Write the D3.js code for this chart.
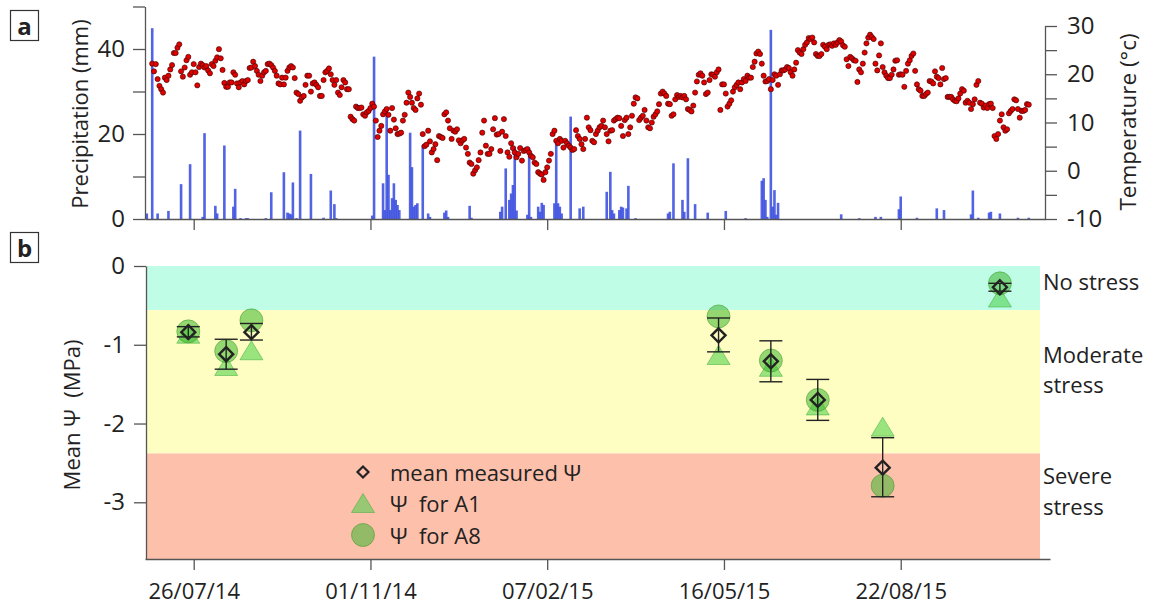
<!DOCTYPE html>
<html>
<head>
<meta charset="utf-8">
<script src="https://cdn.jsdelivr.net/npm/d3@7"></script>
<style>
  body { margin: 0; background: #fff; }
  text { font-family: "Open Sans", sans-serif; fill: #222; }
  .axis path, .axis line { stroke: #555; stroke-width: 1.3; }
  .axis text { font-family: "Open Sans", sans-serif; fill: #222; }
</style>
</head>
<body>
<script>
// ---- data ----
var startDate = "2014-06-29";          // day 0 of the daily series
var endDate = "2015-11-10";
var tickDates = ["2014-07-26", "2014-11-01", "2015-02-07", "2015-05-16", "2015-08-22"];

// daily mean temperature (°C), one value per day from tempStart
var tempStart = "2014-07-03";
var temps = [
  22.2,20.6,22.1,19.0,17.6,16.9,16.2,19.3,18.8,19.7,
  21.0,21.9,24.4,24.4,25.5,26.2,20.6,19.5,21.4,22.9,
  23.6,19.9,20.4,22.1,20.4,17.7,21.5,22.2,21.9,21.4,
  21.7,20.8,20.2,22.1,21.7,22.8,23.5,25.2,23.3,20.9,
  18.2,17.4,17.4,18.3,18.3,20.4,19.9,18.1,17.3,18.3,
  18.6,17.9,18.6,18.8,21.3,21.4,22.6,21.7,20.7,19.9,
  18.6,19.7,20.4,20.7,22.1,22.2,21.9,21.4,20.7,19.7,
  18.1,17.9,19.3,17.9,19.3,20.7,21.4,21.7,21.4,19.2,
  16.2,15.9,14.5,15.2,15.5,17.8,19.7,19.7,16.4,18.1,
  18.3,17.8,17.3,15.5,15.5,18.8,20.4,20.7,21.2,20.0,
  18.8,17.8,18.8,16.2,15.7,17.3,18.8,18.3,16.9,16.9,
  11.2,10.7,10.4,13.3,13.0,13.0,13.1,11.7,11.4,12.1,12.4,
  13.0,13.9,13.3,10.4,7.0,8.3,9.3,11.7,12.3,12.8,
  11.6,8.3,13.0,10.6,8.8,7.6,7.7,7.9,10.4,11.6,
  14.1,16.2,15.3,14.1,13.0,12.6,15.0,16.0,13.7,7.6,
  5.1,5.4,8.3,6.1,3.8,4.5,5.5,2.2,7.2,7.0,
  6.8,11.7,12.1,10.4,8.8,6.6,8.3,8.1,8.6,6.3,
  5.7,6.3,6.6,4.8,3.5,1.7,1.4,-0.6,0.1,0.7,
  2.2,3.8,7.9,10.4,5.2,3.5,3.5,4.5,8.6,10.9,
  7.5,7.6,4.1,8.1,10.7,7.2,3.8,2.9,5.7,4.7,
  3.8,2.8,3.5,4.7,2.1,4.1,4.3,4.5,3.8,3.1,
  2.8,1.7,1.4,-0.3,-0.6,-0.8,-1.9,-0.3,0.7,2.1,
  3.5,7.6,8.3,6.2,5.7,6.6,6.2,4.8,6.2,5.7,
  5.2,4.8,4.3,4.5,8.4,7.2,6.6,5.5,4.5,6.6,
  11.0,9.0,8.4,6.2,
  5.9,7.6,8.3,9.0,9.3,10.4,9.0,7.6,6.1,8.3,
  8.4,10.4,10.7,11.0,10.9,9.3,7.2,10.5,11.0,7.6,
  9.0,11.4,13.9,15.2,15.0,10.5,11.0,11.4,12.6,10.4,
  9.0,8.8,10.0,11.2,11.7,12.3,13.8,16.0,16.4,16.0,
  15.5,13.9,13.8,11.4,11.7,14.8,15.7,15.3,15.5,15.2,
  15.5,14.8,12.8,12.6,12.3,13.5,16.2,18.5,19.9,20.2,
  19.7,18.3,15.9,16.2,18.8,20.0,19.9,19.5,20.4,21.0,
  12.6,17.9,17.9,16.0,13.3,13.9,14.6,16.4,17.3,17.8,
  18.3,16.9,18.3,19.0,18.6,19.7,19.3,19.3,21.5,22.6,
  24.3,24.7,24.2,22.2,19.7,18.5,18.6,19.0,16.9,18.8,
  20.0,19.7,17.8,20.0,20.8,20.8,21.0,21.5,21.3,20.4,
  19.7,21.0,22.4,25.0,24.5,24.2,25.2,26.1,26.6,27.5,
  27.3,27.6,26.6,24.2,23.8,
  23.8,24.2,26.1,25.7,25.2,26.1,26.2,25.9,26.4,26.1,
  26.6,27.1,26.8,26.0,25.7,23.1,21.7,23.6,23.3,22.9,
  22.8,18.4,21.0,20.4,22.2,24.5,26.4,27.6,28.2,27.7,
  27.3,22.2,20.8,23.9,26.4,21.5,20.4,19.7,19.2,19.2,
  19.9,21.0,22.8,22.9,19.9,20.0,19.9,17.4,20.7,22.2,
  22.9,23.8,24.3,20.7,17.9,16.9,16.6,15.5,15.5,15.9,
  16.2,18.6,18.5,18.1,20.6,19.5,19.2,17.9,21.3,19.0,
  19.2,15.3,15.3,15.3,14.8,14.5,14.4,15.0,16.0,16.9,
  16.6,14.1,14.5,14.1,12.8,13.8,14.8,17.8,18.6,14.1,
  13.9,13.1,13.5,13.0,13.8,13.9,13.0,7.2,6.6,7.6,
  10.4,11.7,9.0,8.3,8.6,11.9,12.4,12.8,14.8,14.6,
  12.8,11.0,12.4,12.4,12.6,13.8,13.7
];

// daily precipitation (mm): day number since startDate, amount
var precipDay = [1,4,7,13,20,25,32,33,39,40,44,49,50,53,56,57,67,70,77,79,80,81,82,84,86,92,99,103,105,106,
  126,127,132,133,134,135,136,137,138,139,140,141,147,148,149,150,151,154,157,158,166,167,168,180,181,
  197,198,200,202,203,204,205,206,212,213,214,218,219,220,221,227,228,229,230,231,236,241,243,
  256,258,259,260,263,264,265,267,268,272,290,291,293,298,299,301,305,312,322,333,342,343,344,345,347,348,349,350,351,
  386,396,405,408,418,419,428,439,443,458,459,462,468,469,474,484,490];
var precipMm = [1.3,44.9,1.3,1.9,8.2,12.9,0.5,20.2,3.1,1.3,17.3,2.9,7.1,0.2,0.2,0.2,0.2,6.3,11.0,1.5,1.3,1.1,8.6,0.2,20.8,10.6,0.3,6.7,3.5,0.2,
  0.8,38.2,8.4,2.1,26.0,10.4,2.1,4.9,8.4,4.5,3.3,2.1,20.3,12.2,2.9,3.3,3.7,17.4,1.3,0.5,1.5,2.0,0.5,3.1,0.3,
  1.7,2.9,11.9,4.5,6.0,8.0,17.0,2.0,1.0,16.6,0.5,2.9,1.7,3.8,3.3,3.7,18.2,3.7,2.9,1.3,24.1,2.5,2.9,
  6.4,11.1,2.1,1.3,2.1,2.9,2.7,2.5,7.8,0.2,1.3,1.7,13.1,4.5,1.7,14.3,3.5,1.5,1.9,0.2,9.0,9.6,4.5,0.5,44.5,2.9,6.8,1.0,3.8,
  1.1,0.2,0.5,0.5,2.3,5.3,0.3,2.5,2.1,1.1,6.7,0.3,1.5,1.7,1.3,0.3,0.3];

// leaf water potential, panel b
var psiDates = ["2014-07-23","2014-08-13","2014-08-27","2015-05-13","2015-06-11","2015-07-07","2015-08-12","2015-10-16"];
var psiMean  = [-0.84,-1.12,-0.84,-0.88,-1.21,-1.70,-2.56,-0.27];
var psiLow   = [-0.90,-1.31,-0.94,-1.09,-1.47,-1.96,-2.93,-0.32];
var psiHigh  = [-0.77,-0.93,-0.73,-0.66,-0.95,-1.44,-2.18,-0.22];
var psiA1    = [-0.86,-1.27,-1.07,-1.13,-1.28,-1.77,-2.04,-0.40];
var psiA8    = [-0.83,-1.08,-0.69,-0.64,-1.20,-1.70,-2.79,-0.22];

var bandNames = [["No stress"], ["Moderate", "stress"], ["Severe", "stress"]];
var bandEdges = [0, -0.56, -2.38, -3.72];
var bandColors = ["#c0fde6", "#fefec2", "#fdc0ab"];
var legendLabels = ["mean measured \u03a8", "\u03a8\u00a0 for A1", "\u03a8\u00a0 for A8"];

// ---- layout ----
var width = 1153, height = 608;
var parse = d3.utcParse("%Y-%m-%d");
var plain = function(d){ return String(d); };   // hyphen minus, no decimals

var svg = d3.select("body").append("svg")
  .attr("width", width)
  .attr("height", height);

var x = d3.scaleUtc()
  .domain([parse(startDate), parse(endDate)])
  .range([145, 1045]);

var precipY = d3.scaleLinear().domain([0, 50]).range([219, 6.5]);
var tempY = d3.scaleLinear().domain([-10, 30]).range([219, 26]);
var psiY = d3.scaleLinear().domain([bandEdges[3], 0]).range([559, 266]);

var day0 = parse(startDate);
var t0 = parse(tempStart);

// ---- panel a ----
var a = svg.append("g");

a.selectAll(".bar")
  .data(precipDay)
  .enter().append("rect")
  .attr("class", "bar")
  .attr("x", function(d){ return x(d3.utcDay.offset(day0, d)) - 1.3; })
  .attr("width", 2.6)
  .attr("y", function(d, i){ return precipY(precipMm[i]); })
  .attr("height", function(d, i){ return precipY(0) - precipY(precipMm[i]); })
  .attr("fill", "#3f52e0")
  .attr("opacity", 0.9);

a.selectAll(".temp")
  .data(temps)
  .enter().append("circle")
  .attr("class", "temp")
  .attr("cx", function(d, i){ return x(d3.utcDay.offset(t0, i)); })
  .attr("cy", function(d){ return tempY(d); })
  .attr("r", 2.6)
  .attr("fill", "#e00000")
  .attr("stroke", "#3a0000")
  .attr("stroke-width", 0.6);

a.append("g").attr("class", "axis")
  .attr("transform", "translate(145,0)")
  .call(d3.axisLeft(precipY).tickValues([0,10,20,30,40,50])
    .tickFormat(function(d){ return d % 20 === 0 && d < 50 ? String(d) : ""; })
    .tickSize(12).tickPadding(8).tickSizeOuter(0))
  .selectAll("text").style("font-size", "24px");

a.append("g").attr("class", "axis")
  .attr("transform", "translate(1045,0)")
  .call(d3.axisRight(tempY).tickValues(d3.range(-10, 31, 5))
    .tickFormat(function(d){ return d % 10 === 0 ? String(d) : ""; })
    .tickSize(12).tickPadding(10).tickSizeOuter(0))
  .selectAll("text").style("font-size", "24px");

a.append("g").attr("class", "axis")
  .attr("transform", "translate(0,219)")
  .call(d3.axisBottom(x).tickValues(tickDates.map(parse))
    .tickFormat("").tickSize(11).tickSizeOuter(0));

a.append("text")
  .attr("transform", "translate(79,114) rotate(-90)")
  .attr("text-anchor", "middle").attr("dominant-baseline", "central")
  .style("font-size", "22px")
  .text("Precipitation (mm)");

a.append("text")
  .attr("transform", "translate(1127,122) rotate(-90)")
  .attr("text-anchor", "middle").attr("dominant-baseline", "central")
  .style("font-size", "22.5px")
  .text("Temperature (°c)");

// ---- panel b ----
var b = svg.append("g");

b.selectAll(".band")
  .data(bandColors)
  .enter().append("rect")
  .attr("x", 146)
  .attr("width", 1040 - 146)
  .attr("y", function(d, i){ return psiY(bandEdges[i]); })
  .attr("height", function(d, i){ return psiY(bandEdges[i + 1]) - psiY(bandEdges[i]); })
  .attr("fill", function(d){ return d; });

var bandLabelY = [[281], [354, 384], [475, 506]];
bandNames.forEach(function(lines, i){
  lines.forEach(function(s, j){
    b.append("text")
      .attr("x", 1043).attr("y", bandLabelY[i][j])
      .attr("dominant-baseline", "central")
      .style("font-size", "22px")
      .text(s);
  });
});

var pts = psiDates.map(function(d, i){
  return { x: x(parse(d)), mean: psiMean[i], lo: psiLow[i], hi: psiHigh[i], a1: psiA1[i], a8: psiA8[i] };
});

var tri = "M0,-9.5L11.5,9.5L-11.5,9.5Z";
var dia = "M0,-7L7,0L0,7L-7,0Z";

b.selectAll(".a1").data(pts).enter().append("path")
  .attr("d", tri)
  .attr("transform", function(d){ return "translate(" + d.x + "," + psiY(d.a1) + ")"; })
  .attr("fill", "rgb(70,205,70)").attr("fill-opacity", 0.55)
  .attr("stroke", "rgb(60,170,60)").attr("stroke-opacity", 0.5);

b.selectAll(".a8").data(pts).enter().append("circle")
  .attr("cx", function(d){ return d.x; })
  .attr("cy", function(d){ return psiY(d.a8); })
  .attr("r", 11.5)
  .attr("fill", "rgb(60,180,45)").attr("fill-opacity", 0.55)
  .attr("stroke", "rgb(60,150,40)").attr("stroke-opacity", 0.5);

var err = b.selectAll(".err").data(pts).enter().append("g")
  .attr("stroke", "#222").attr("stroke-width", 1.4);
err.append("line")
  .attr("x1", function(d){ return d.x; }).attr("x2", function(d){ return d.x; })
  .attr("y1", function(d){ return psiY(d.lo); }).attr("y2", function(d){ return psiY(d.hi); });
err.append("line")
  .attr("x1", function(d){ return d.x - 11.5; }).attr("x2", function(d){ return d.x + 11.5; })
  .attr("y1", function(d){ return psiY(d.lo); }).attr("y2", function(d){ return psiY(d.lo); });
err.append("line")
  .attr("x1", function(d){ return d.x - 11.5; }).attr("x2", function(d){ return d.x + 11.5; })
  .attr("y1", function(d){ return psiY(d.hi); }).attr("y2", function(d){ return psiY(d.hi); });

b.selectAll(".mean").data(pts).enter().append("path")
  .attr("d", dia)
  .attr("transform", function(d){ return "translate(" + d.x + "," + psiY(d.mean) + ")"; })
  .attr("fill", "none").attr("stroke", "#222").attr("stroke-width", 2.4);

// legend
var legY = [472, 503, 535];
b.append("path").attr("d", "M0,-5.5L5.5,0L0,5.5L-5.5,0Z")
  .attr("transform", "translate(363," + legY[0] + ")")
  .attr("fill", "none").attr("stroke", "#222").attr("stroke-width", 2.2);
b.append("path").attr("d", tri)
  .attr("transform", "translate(363," + legY[1] + ")")
  .attr("fill", "rgb(70,205,70)").attr("fill-opacity", 0.55)
  .attr("stroke", "rgb(60,170,60)").attr("stroke-opacity", 0.5);
b.append("circle").attr("cx", 363).attr("cy", legY[2]).attr("r", 11.5)
  .attr("fill", "rgb(60,180,45)").attr("fill-opacity", 0.55)
  .attr("stroke", "rgb(60,150,40)").attr("stroke-opacity", 0.5);
legendLabels.forEach(function(s, i){
  b.append("text").attr("x", 390).attr("y", legY[i])
    .attr("dominant-baseline", "central")
    .style("font-size", "22px").text(s);
});

// axes
b.append("g").attr("class", "axis")
  .attr("transform", "translate(146,0)")
  .call(d3.axisLeft(psiY).tickValues([0, -1, -2, -3]).tickFormat(plain)
    .tickSize(12).tickPadding(9).tickSizeOuter(0))
  .selectAll("text").style("font-size", "24px");

var xB = x.copy().domain([parse(startDate), x.invert(1050)]).range([145, 1050]);
b.append("g").attr("class", "axis")
  .attr("transform", "translate(0,559)")
  .call(d3.axisBottom(xB).tickValues(tickDates.map(parse))
    .tickFormat(d3.utcFormat("%d/%m/%y")).tickSize(11).tickPadding(13).tickSizeOuter(0))
  .selectAll("text").style("font-size", "22px");

b.append("text")
  .attr("transform", "translate(71,415) rotate(-90)")
  .attr("text-anchor", "middle").attr("dominant-baseline", "central")
  .style("font-size", "22px")
  .text("Mean \u03a8\u00a0 (MPa)");

// panel letters
[["a", 10], ["b", 232]].forEach(function(p){
  svg.append("rect").attr("x", 10.5).attr("y", p[1] + 0.5).attr("width", 28).attr("height", 30)
    .attr("fill", "none").attr("stroke", "#333").attr("stroke-width", 1.2);
  svg.append("text").attr("x", 24.5).attr("y", p[1] + 15.5)
    .attr("text-anchor", "middle").attr("dominant-baseline", "central")
    .style("font-size", "24px").style("font-weight", "bold")
    .text(p[0]);
});
</script>
</body>
</html>
